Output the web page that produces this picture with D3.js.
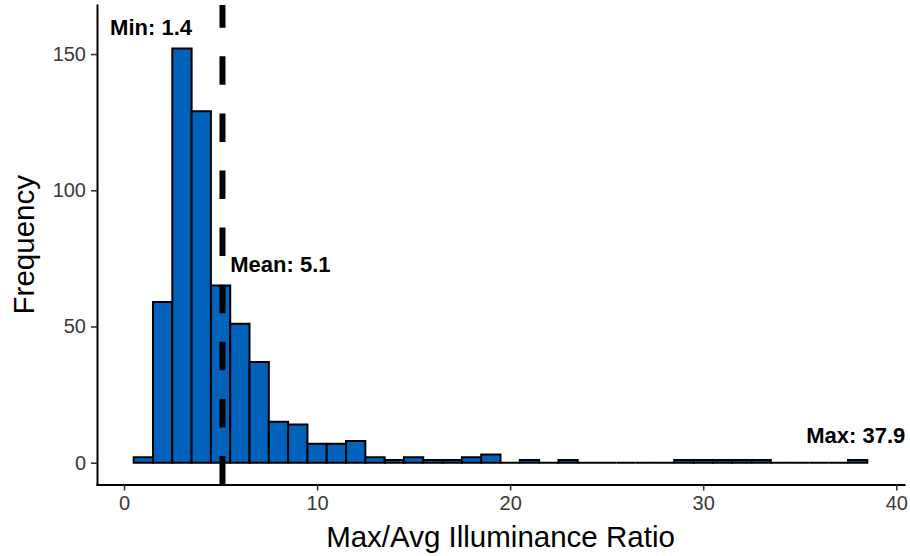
<!DOCTYPE html>
<html>
<head>
<meta charset="utf-8">
<script src="https://cdn.jsdelivr.net/npm/d3@7"></script>
<style>
  html, body { margin: 0; padding: 0; background: #fff; }
  svg { display: block; font-family: "Liberation Sans", Arial, sans-serif; }
</style>
</head>
<body>
<svg id="chart" width="910" height="556"></svg>
<script>
// Histogram of max/avg illuminance ratios, bin width 1
const binMids = [1, 2, 3, 4, 5, 6, 7, 8, 9, 10, 11, 12, 13, 14, 15, 16, 17, 18, 19,
                 20, 21, 22, 23, 24, 25, 26, 27, 28, 29, 30, 31, 32, 33, 34, 35, 36, 37, 38];
const counts  = [2, 59, 152, 129, 65, 51, 37, 15, 14, 7, 7, 8, 2, 1, 2, 1, 1, 2, 3,
                 0, 1, 0, 1, 0, 0, 0, 0, 0, 1, 1, 1, 1, 1, 0, 0, 0, 0, 1];
const binWidth = 1;

const xTicks = [0, 10, 20, 30, 40];
const yTicks = [0, 50, 100, 150];

const meanValue = 5.1;
const labelTexts = ["Min: 1.4", "Mean: 5.1", "Max: 37.9"];
const labelX     = [1.4, 8.1, 37.9];
const labelY     = [160, 73, 10];

const xTitle = "Max/Avg Illuminance Ratio";
const yTitle = "Frequency";

const svg = d3.select("#chart");
const panel = { left: 97, right: 904, top: 5, bottom: 484.5 };

const x = d3.scaleLinear().domain([-1.4, 40.4]).range([panel.left, panel.right]);
const y = d3.scaleLinear().domain([-8, 168]).range([panel.bottom, panel.top]);

const bins = binMids.map((m, i) => ({ x0: m - binWidth / 2, x1: m + binWidth / 2, n: counts[i] }));

// bars as closed paths so empty bins still show their outline on the baseline
svg.append("g")
  .selectAll("path")
  .data(bins)
  .join("path")
  .attr("d", d => `M${x(d.x0)},${y(0)}V${y(d.n)}H${x(d.x1)}V${y(0)}Z`)
  .attr("fill", "#0062bb")
  .attr("stroke", "#000")
  .attr("stroke-width", 2)
  .attr("stroke-linejoin", "miter");

// mean line
svg.append("line")
  .attr("x1", x(meanValue)).attr("x2", x(meanValue))
  .attr("y1", y.range()[0]).attr("y2", y.range()[1])
  .attr("stroke", "#000")
  .attr("stroke-width", 6)
  .attr("stroke-dasharray", "28.5,28.6");

// annotation labels
svg.append("g")
  .selectAll("text")
  .data(labelTexts)
  .join("text")
  .attr("x", (d, i) => x(labelX[i]))
  .attr("y", (d, i) => y(labelY[i]) + 7.9)
  .attr("text-anchor", "middle")
  .attr("font-size", 22)
  .attr("font-weight", "bold")
  .attr("fill", "#000")
  .text(d => d);

// axes
const xAxis = svg.append("g")
  .attr("transform", `translate(0,${panel.bottom})`)
  .call(d3.axisBottom(x).tickValues(xTicks).tickSize(6).tickSizeOuter(0).tickPadding(5));
const yAxis = svg.append("g")
  .attr("transform", `translate(${panel.left},0)`)
  .call(d3.axisLeft(y).tickValues(yTicks).tickSize(6).tickSizeOuter(0).tickPadding(5));

[xAxis, yAxis].forEach(g => {
  g.select(".domain").attr("stroke", "#000").attr("stroke-width", 2).attr("stroke-linecap", "square");
  g.selectAll(".tick line").attr("stroke", "#333").attr("stroke-width", 1.6);
  g.selectAll(".tick text")
    .attr("fill", "#3a3a3a")
    .attr("font-size", 20)
    .attr("font-family", "Liberation Sans, Arial, sans-serif");
});

// axis titles
svg.append("text")
  .attr("x", (panel.left + panel.right) / 2)
  .attr("y", 547)
  .attr("text-anchor", "middle")
  .attr("font-size", 29.5)
  .attr("fill", "#000")
  .text(xTitle);

svg.append("text")
  .attr("transform", `translate(34,${(panel.top + panel.bottom) / 2}) rotate(-90)`)
  .attr("text-anchor", "middle")
  .attr("font-size", 29.5)
  .attr("fill", "#000")
  .text(yTitle);
</script>
</body>
</html>
